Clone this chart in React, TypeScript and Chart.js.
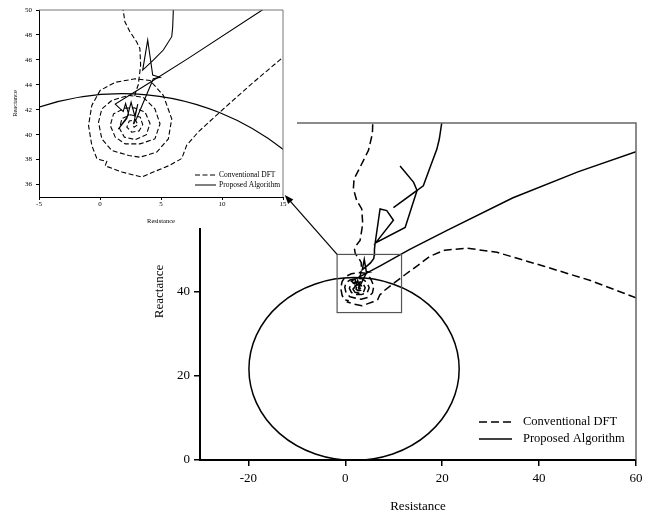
import React, { useEffect, useRef } from 'react';
import { Chart, registerables } from 'chart.js';

Chart.register(...registerables);

const FONT = '"Liberation Serif", "Times New Roman", serif';

// ---------- data (Resistance R, Reactance X) ----------
// Conventional DFT: trajectory coming from the load region and spiralling into the fault point
const DFT_IN_R = [60, 50.6, 41, 31.3, 25, 20.5, 17.5, 15.05, 12.31, 9.85, 8.07, 7.11, 6.7, 5.74, 4.37, 3.44, 1.8, 0.42, 0.56, -0.25, -0.67, -0.94, -0.67, 0.01, 1.25, 2.89, 4.1, 5.19, 5.88, 5.6, 4.65, 3.27, 2.35, 0.97, 0.15, -0.12, 0.15, 0.97, 2.35, 3.55, 4.5, 4.92, 4.5, 3.27, 2.07, 1.25, 0.84, 1.11, 2.07, 2.8, 3.7, 4.1, 3.8, 2.9, 2.0, 1.6, 1.8, 2.5, 3.3, 3.5, 3.2, 2.6, 2.2, 2.4, 2.9, 3.1, 2.8, 2.7];
const DFT_IN_X = [38.5, 42.6, 46.0, 49.3, 50.3, 49.8, 48.4, 46.25, 43.98, 41.83, 40.23, 39.16, 38.09, 37.55, 37.0, 36.6, 37.0, 37.5, 37.85, 38.06, 39.13, 40.74, 42.35, 43.55, 44.2, 44.48, 44.35, 43.15, 41.27, 39.66, 38.6, 38.19, 38.33, 38.73, 39.66, 41.0, 42.07, 42.75, 43.15, 43.0, 42.07, 40.87, 39.66, 39.26, 39.26, 39.8, 40.74, 41.67, 42.13, 42.15, 41.8, 40.9, 40.0, 39.6, 39.8, 40.5, 41.3, 41.6, 41.4, 40.8, 40.3, 40.2, 40.6, 41.1, 41.2, 40.8, 40.6, 40.8];
// Conventional DFT: upper branch
const DFT_UP_R = [2.85, 2.95, 3.13, 3.22, 3.33, 3.27, 3.0, 2.45, 2.04, 1.9, 2.3, 3.04, 3.59, 3.39, 2.35, 1.66, 1.8, 3.04, 4.77, 5.59, 5.66];
const DFT_UP_X = [43.1, 43.5, 43.98, 44.64, 45.58, 46.92, 47.45, 48.26, 49.06, 50.0, 51.0, 52.1, 56.0, 59.6, 61.6, 64.4, 66.7, 69.5, 73.5, 77.5, 80.0];
// Proposed algorithm: approach to the fault point
const PA_IN_R = [60, 48, 34.5, 21, 13.3, 7.2, 3.8, 1.25, 1.9, 2.1, 2.35, 1.5, 2.2, 2.55, 2.85, 3.1, 2.75];
const PA_IN_X = [73.2, 68.4, 62.2, 54.5, 50.0, 46.1, 44.0, 42.45, 41.85, 42.5, 41.6, 40.45, 41.3, 42.6, 41.5, 42.45, 40.85];
// Proposed algorithm: upper branch
const PA_UP_R = [2.75, 3.0, 4.37, 4.92, 4.32, 3.91, 3.5, 4.37, 5.19, 5.88, 5.96, 6.01, 6.14, 7.17, 8.56, 9.93, 6.3, 12.35, 14.8, 16.1, 17.5, 18.9, 19.4, 19.9];
const PA_UP_X = [40.85, 41.3, 44.48, 44.6, 44.78, 47.59, 45.18, 45.98, 46.79, 47.86, 48.66, 50.0, 51.4, 59.6, 59.2, 56.9, 51.6, 55.2, 64.0, 65.1, 69.5, 73.8, 76.2, 80.0];
// Proposed algorithm: short branch / spike
const PA_BR_R = [9.93, 14.8, 14.1, 11.3];
const PA_BR_X = [59.9, 64.0, 65.9, 69.8];

// Mho characteristic (circle through the origin)
const MHO_CENTER = [1.8, 21.6];
const MHO_RADIUS = 21.7;

// zoom box in the main chart and arrow to the inset
const ZOOM_BOX_R = [-1.7, 11.6];
const ZOOM_BOX_X = [35, 48.8];
const ARROW_FROM = [-1.7, 48.8];
const ARROW_TO = [-12.5, 62.9];

const MAIN_X_TICKS = [-20, 0, 20, 40, 60];
const MAIN_Y_TICKS = [0, 20, 40, 60, 80];
const INSET_X_TICKS = [-5, 0, 5, 10, 15];
const INSET_Y_TICKS = [36, 38, 40, 42, 44, 46, 48, 50];

const LEGEND_LABELS = ['Conventional DFT', 'Proposed Algorithm'];

// ---------- helpers ----------
const pts = (r: number[], x: number[]) => r.map((v, i) => ({ x: v, y: x[i] }));

function makeDatasets(dash: number[], lw: number) {
  const base = { borderColor: '#000', pointRadius: 0, showLine: true, fill: false, tension: 0, borderWidth: lw };
  return [
    { ...base, label: LEGEND_LABELS[0], data: pts(DFT_IN_R, DFT_IN_X), borderDash: dash },
    { ...base, label: LEGEND_LABELS[0], data: pts(DFT_UP_R, DFT_UP_X), borderDash: dash },
    { ...base, label: LEGEND_LABELS[1], data: pts(PA_IN_R, PA_IN_X) },
    { ...base, label: LEGEND_LABELS[1], data: pts(PA_UP_R, PA_UP_X) },
    { ...base, label: LEGEND_LABELS[1], data: pts(PA_BR_R, PA_BR_X) },
  ];
}

function mhoPlugin(lw: number) {
  return {
    id: 'mho',
    beforeDatasetsDraw(chart: any) {
      const { ctx, chartArea: a, scales } = chart;
      const xs = scales.x, ys = scales.y;
      const cx = xs.getPixelForValue(MHO_CENTER[0]);
      const cy = ys.getPixelForValue(MHO_CENTER[1]);
      const rx = Math.abs(xs.getPixelForValue(MHO_CENTER[0] + MHO_RADIUS) - cx);
      const ry = Math.abs(ys.getPixelForValue(MHO_CENTER[1] + MHO_RADIUS) - cy);
      ctx.save();
      ctx.beginPath();
      ctx.rect(a.left, a.top, a.right - a.left, a.bottom - a.top);
      ctx.clip();
      ctx.beginPath();
      ctx.ellipse(cx, cy, rx, ry, 0, 0, Math.PI * 2);
      ctx.strokeStyle = '#000';
      ctx.lineWidth = lw;
      ctx.stroke();
      ctx.restore();
    },
  };
}

function drawFrame(ctx: any, a: any, color: string, lw: number) {
  ctx.save();
  ctx.strokeStyle = color;
  ctx.lineWidth = lw;
  ctx.beginPath();
  ctx.moveTo(a.left, a.top);
  ctx.lineTo(a.right, a.top);
  ctx.lineTo(a.right, a.bottom);
  ctx.stroke();
  ctx.restore();
}

function drawLegend(ctx: any, cfg: { x0: number; x1: number; xt: number; ys: number[]; size: number; dash: number[]; lw: number }) {
  LEGEND_LABELS.forEach((label, i) => {
    ctx.save();
    ctx.strokeStyle = '#000';
    ctx.lineWidth = cfg.lw;
    ctx.setLineDash(i === 0 ? cfg.dash : []);
    ctx.beginPath();
    ctx.moveTo(cfg.x0, cfg.ys[i]);
    ctx.lineTo(cfg.x1, cfg.ys[i]);
    ctx.stroke();
    ctx.setLineDash([]);
    ctx.fillStyle = '#000';
    ctx.font = `${cfg.size}px ${FONT}`;
    ctx.textAlign = 'left';
    ctx.textBaseline = 'middle';
    ctx.fillText(label, cfg.xt, cfg.ys[i]);
    ctx.restore();
  });
}

const mainExtras = {
  id: 'mainExtras',
  afterDraw(chart: any) {
    const { ctx, chartArea: a, scales } = chart;
    const xs = scales.x, ys = scales.y;
    drawFrame(ctx, a, '#666', 1.5);
    // zoom box
    const bx0 = xs.getPixelForValue(ZOOM_BOX_R[0]);
    const bx1 = xs.getPixelForValue(ZOOM_BOX_R[1]);
    const by0 = ys.getPixelForValue(ZOOM_BOX_X[1]);
    const by1 = ys.getPixelForValue(ZOOM_BOX_X[0]);
    ctx.save();
    ctx.strokeStyle = '#555';
    ctx.lineWidth = 1.2;
    ctx.strokeRect(bx0, by0, bx1 - bx0, by1 - by0);
    ctx.restore();
    drawLegend(ctx, { x0: a.right - 157, x1: a.right - 124, xt: a.right - 113, ys: [a.bottom - 38, a.bottom - 21], size: 12.5, dash: [8, 4], lw: 1.5 });
    // white background behind the inset
    ctx.save();
    ctx.fillStyle = '#fff';
    ctx.fillRect(0, 0, 297, 228);
    ctx.restore();
    // arrow
    const ax0 = xs.getPixelForValue(ARROW_FROM[0]);
    const ay0 = ys.getPixelForValue(ARROW_FROM[1]);
    const ax1 = xs.getPixelForValue(ARROW_TO[0]);
    const ay1 = ys.getPixelForValue(ARROW_TO[1]);
    const ang = Math.atan2(ay1 - ay0, ax1 - ax0);
    const hl = 9, hw = 3.5;
    ctx.save();
    ctx.strokeStyle = '#000';
    ctx.fillStyle = '#000';
    ctx.lineWidth = 1.2;
    ctx.beginPath();
    ctx.moveTo(ax0, ay0);
    ctx.lineTo(ax1 - Math.cos(ang) * hl * 0.8, ay1 - Math.sin(ang) * hl * 0.8);
    ctx.stroke();
    ctx.beginPath();
    ctx.moveTo(ax1, ay1);
    ctx.lineTo(ax1 - Math.cos(ang) * hl - Math.sin(ang) * hw, ay1 - Math.sin(ang) * hl + Math.cos(ang) * hw);
    ctx.lineTo(ax1 - Math.cos(ang) * hl + Math.sin(ang) * hw, ay1 - Math.sin(ang) * hl - Math.cos(ang) * hw);
    ctx.closePath();
    ctx.fill();
    ctx.restore();
  },
};

const insetExtras = {
  id: 'insetExtras',
  afterDraw(chart: any) {
    const { ctx, chartArea: a } = chart;
    drawFrame(ctx, a, '#777', 1);
    drawLegend(ctx, { x0: a.right - 88, x1: a.right - 67, xt: a.right - 64, ys: [a.bottom - 22, a.bottom - 12], size: 7.5, dash: [5, 2.5], lw: 1 });
  },
};

function axis(opts: any) {
  const { min, max, ticks, size, tickLength, pad, title, titleSize, titlePad, fit, isY, borderW, tickW } = opts;
  return {
    type: 'linear',
    min,
    max,
    afterBuildTicks: (s: any) => { s.ticks = ticks.map((v: number) => ({ value: v })); },
    afterFit: (s: any) => { if (isY) s.width = fit; else s.height = fit; },
    grid: { drawOnChartArea: false, drawTicks: true, tickLength, color: '#000', lineWidth: tickW },
    border: { display: true, color: '#000', width: borderW },
    ticks: { color: '#000', font: { family: FONT, size }, padding: pad, maxRotation: 0, autoSkip: false },
    title: { display: true, text: title, color: '#000', font: { family: FONT, size: titleSize }, padding: titlePad },
  };
}

export default function App() {
  const mainRef = useRef<HTMLCanvasElement | null>(null);
  const insetRef = useRef<HTMLCanvasElement | null>(null);

  useEffect(() => {
    const common = {
      animation: false as const,
      responsive: false,
      devicePixelRatio: 1,
      events: [] as any[],
    };
    const main = new Chart(mainRef.current as HTMLCanvasElement, {
      type: 'scatter',
      data: { datasets: makeDatasets([8, 4], 1.5) as any },
      options: {
        ...common,
        layout: { padding: { top: 123, right: 23, left: 0, bottom: 0 } },
        plugins: { legend: { display: false }, tooltip: { enabled: false } },
        scales: {
          x: axis({ min: -30, max: 60, ticks: MAIN_X_TICKS, size: 13, tickLength: 6, pad: 5, title: 'Resistance', titleSize: 13, titlePad: { top: 0, bottom: 0 }, fit: 54, isY: false, borderW: 2, tickW: 1.5 }),
          y: axis({ min: 0, max: 80, ticks: MAIN_Y_TICKS, size: 13, tickLength: 6, pad: 4, title: 'Reactance', titleSize: 13, titlePad: { top: 152, bottom: 0 }, fit: 200, isY: true, borderW: 2, tickW: 1.5 }),
        } as any,
      },
      plugins: [mhoPlugin(1.5), mainExtras],
    });
    const inset = new Chart(insetRef.current as HTMLCanvasElement, {
      type: 'scatter',
      data: { datasets: makeDatasets([5, 2.5], 1.1) as any },
      options: {
        ...common,
        layout: { padding: { top: 10, right: 14, left: 0, bottom: 0 } },
        plugins: { legend: { display: false }, tooltip: { enabled: false } },
        scales: {
          x: axis({ min: -5, max: 15, ticks: INSET_X_TICKS, size: 7, tickLength: 3, pad: 0, title: 'Resistance', titleSize: 6.5, titlePad: { top: 0, bottom: 3 }, fit: 31, isY: false, borderW: 1, tickW: 1 }),
          y: axis({ min: 35, max: 50, ticks: INSET_Y_TICKS, size: 7, tickLength: 3, pad: 4, title: 'Reactance', titleSize: 6.5, titlePad: { top: 11, bottom: 0 }, fit: 39, isY: true, borderW: 1, tickW: 1 }),
        } as any,
      },
      plugins: [mhoPlugin(1.3), insetExtras],
    });
    return () => {
      main.destroy();
      inset.destroy();
    };
  }, []);

  return (
    <div style={{ position: 'absolute', left: 0, top: 0, width: 659, height: 514, background: '#fff', overflow: 'hidden' }}>
      <canvas ref={mainRef} width={659} height={514} style={{ position: 'absolute', left: 0, top: 0 }} />
      <canvas ref={insetRef} width={297} height={228} style={{ position: 'absolute', left: 0, top: 0 }} />
    </div>
  );
}
